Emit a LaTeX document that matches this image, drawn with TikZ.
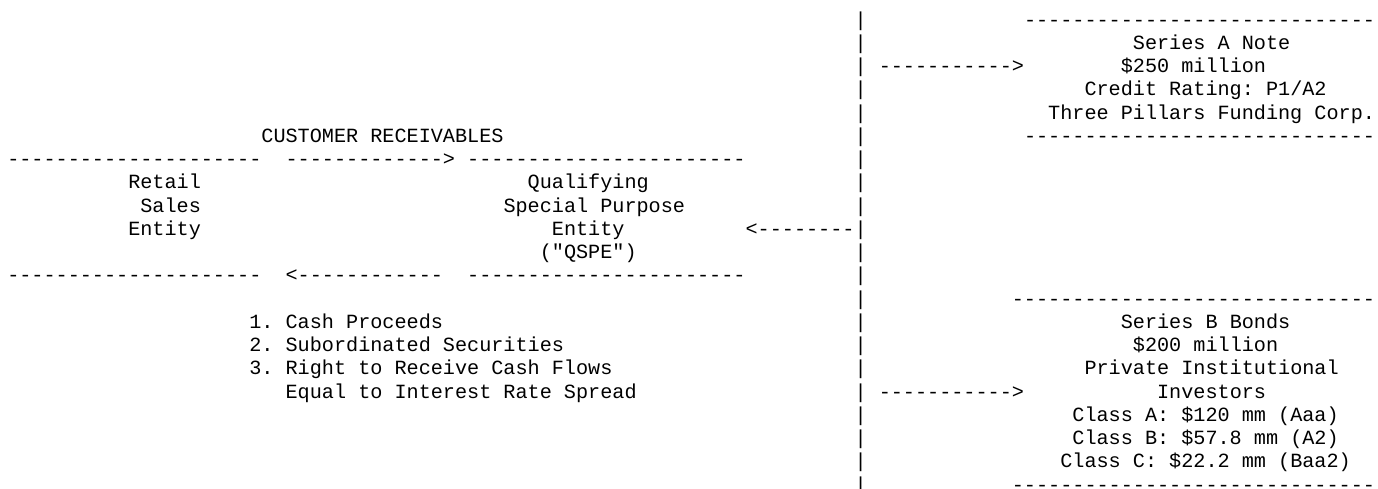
\documentclass[tikz,border=0pt]{standalone}
\usepackage{fontspec}
\setmonofont{Liberation Mono}
\ExplSyntaxOn
\cs_new:Npn \dashrep #1 {\prg_replicate:nn{#1}{-}}
\ExplSyntaxOff
\newcommand\asciiat[4]{\node[asc] (#1) at ({7.25+12.104*(#2)},{-26.05-23.25*(#3)}) {#4};}
\begin{document}
\begin{tikzpicture}[x=1pt,y=1pt,
  asc/.style={anchor=base west,inner sep=0pt,outer sep=0pt,
    font=\ttfamily\fontsize{20.17}{23.25}\selectfont,text=black}]
\useasboundingbox[fill=white] (0,0) rectangle (1378,-489);
% vertical divider
\foreach \r in {0,...,20}{\asciiat{bar\r}{70}{\r}{|}}
% Series A box
\asciiat{Atop}{84}{0}{\dashrep{29}}
\asciiat{Aline1}{93}{1}{Series A Note}
\asciiat{arrA}{72}{2}{\dashrep{11}>}
\asciiat{Aline2}{92}{2}{\$250 million}
\asciiat{Aline3}{89}{3}{Credit Rating: P1/A2}
\asciiat{Aline4}{86}{4}{Three Pillars Funding Corp.}
\asciiat{Abot}{84}{5}{\dashrep{29}}
% left boxes
\asciiat{custrec}{21}{5}{CUSTOMER RECEIVABLES}
\asciiat{RStop}{0}{6}{\dashrep{21}}
\asciiat{arrCR}{23}{6}{\dashrep{13}>}
\asciiat{Qtop}{38}{6}{\dashrep{23}}
\asciiat{RS1}{10}{7}{Retail}
\asciiat{Q1}{43}{7}{Qualifying}
\asciiat{RS2}{11}{8}{Sales}
\asciiat{Q2}{41}{8}{Special Purpose}
\asciiat{RS3}{10}{9}{Entity}
\asciiat{Q3}{45}{9}{Entity}
\asciiat{arrQ}{61}{9}{<\dashrep{8}}
\asciiat{Q4}{44}{10}{("QSPE")}
\asciiat{RSbot}{0}{11}{\dashrep{21}}
\asciiat{arrCash}{23}{11}{<\dashrep{12}}
\asciiat{Qbot}{38}{11}{\dashrep{23}}
% proceeds list
\asciiat{L1}{20}{13}{1. Cash Proceeds}
\asciiat{L2}{20}{14}{2. Subordinated Securities}
\asciiat{L3}{20}{15}{3. Right to Receive Cash Flows}
\asciiat{L4}{23}{16}{Equal to Interest Rate Spread}
% Series B box
\asciiat{Btop}{83}{12}{\dashrep{30}}
\asciiat{B1}{92}{13}{Series B Bonds}
\asciiat{B2}{93}{14}{\$200 million}
\asciiat{B3}{89}{15}{Private Institutional}
\asciiat{arrB}{72}{16}{\dashrep{11}>}
\asciiat{B4}{95}{16}{Investors}
\asciiat{B5}{88}{17}{Class A: \$120 mm (Aaa)}
\asciiat{B6}{88}{18}{Class B: \$57.8 mm (A2)}
\asciiat{B7}{87}{19}{Class C: \$22.2 mm (Baa2)}
\asciiat{Bbot}{83}{20}{\dashrep{30}}
\end{tikzpicture}
\end{document}
